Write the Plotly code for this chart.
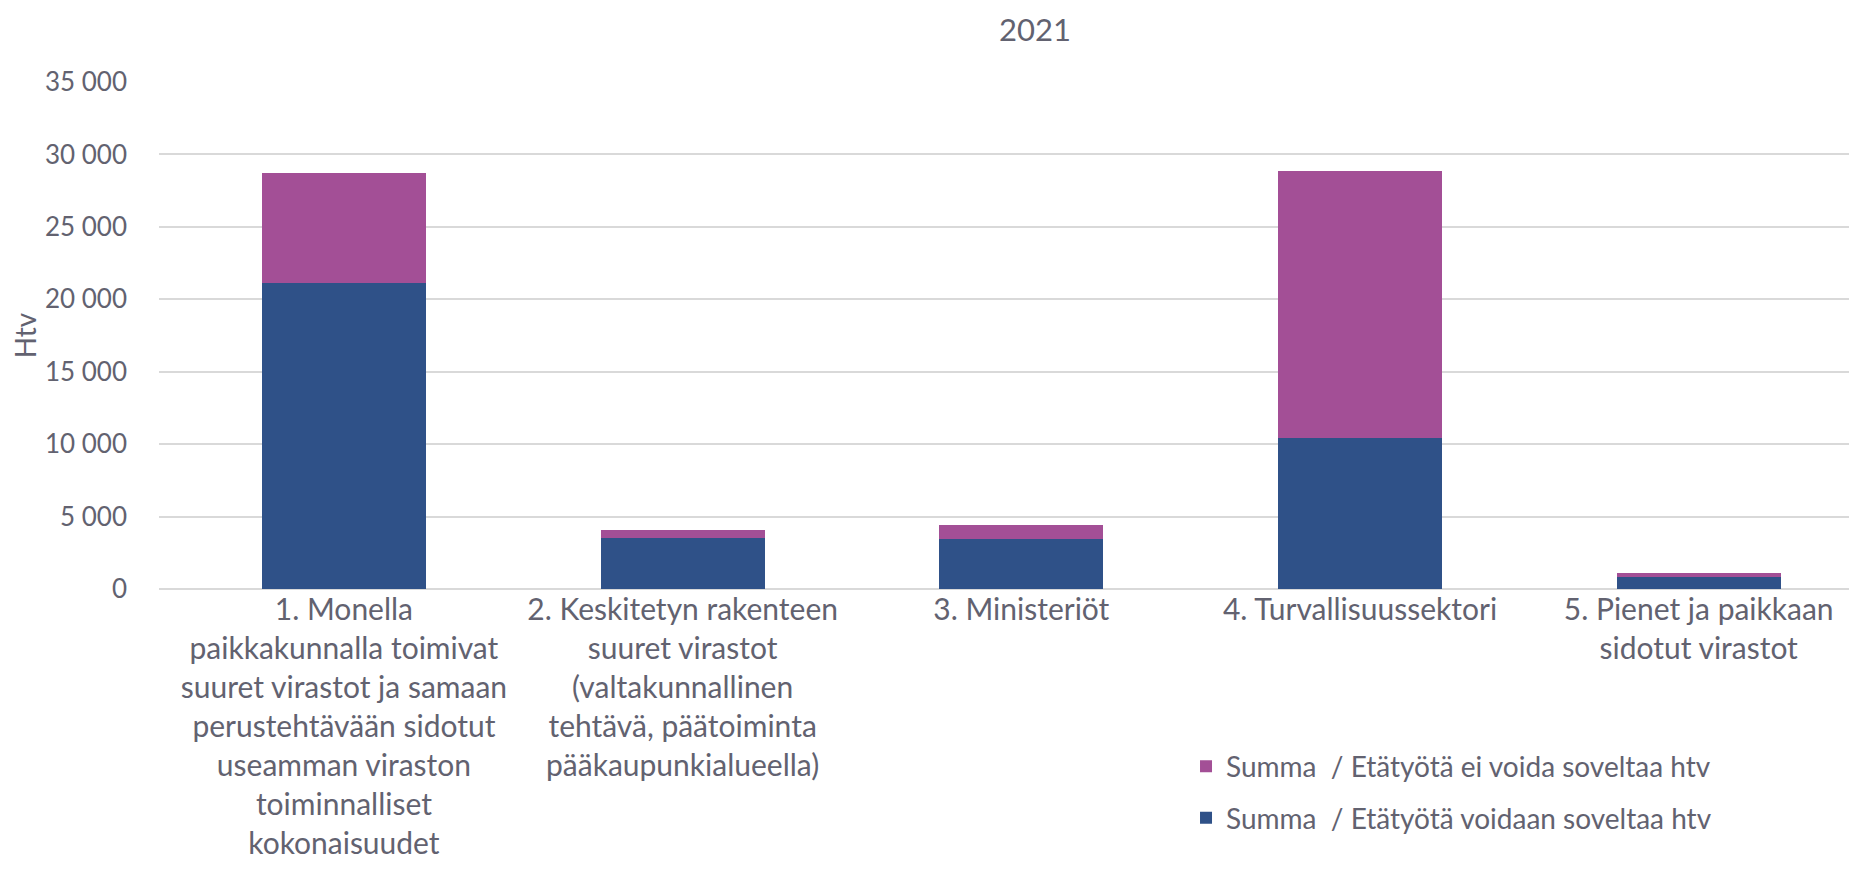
import plotly.graph_objects as go

categories = [
    "1. Monella<br>paikkakunnalla toimivat<br>suuret virastot ja samaan<br>perustehtävään sidotut<br>useamman viraston<br>toiminnalliset<br>kokonaisuudet",
    "2. Keskitetyn rakenteen<br>suuret virastot<br>(valtakunnallinen<br>tehtävä, päätoiminta<br>pääkaupunkialueella)",
    "3. Ministeriöt",
    "4. Turvallisuussektori",
    "5. Pienet ja paikkaan<br>sidotut virastot",
]
voidaan = [21100, 3520, 3450, 10410, 830]
ei_voida = [7590, 550, 965, 18420, 275]

name_voidaan = "Summa  / Etätyötä voidaan soveltaa htv"
name_ei = "Summa  / Etätyötä ei voida soveltaa htv"

text_color = "#626270"
font_family = "Lato, Carlito, Calibri, sans-serif"

fig = go.Figure()
fig.add_trace(go.Bar(x=list(range(len(categories))), y=voidaan, name=name_voidaan,
                     legendgroup="a", legendrank=2,
                     marker=dict(color="#2f5188", line=dict(width=0))))
fig.add_trace(go.Bar(x=list(range(len(categories))), y=ei_voida, name=name_ei,
                     legendgroup="b", legendrank=1,
                     marker=dict(color="#a34f96", line=dict(width=0))))

fig.update_layout(
    barmode="stack",
    bargap=0.516,
    width=1857, height=881,
    margin=dict(l=151, r=0, t=74, b=300),
    paper_bgcolor="white", plot_bgcolor="white",
    separators=", ",
    font=dict(family=font_family, size=28, color=text_color),
    title=dict(text="2021", x=0.553, xref="container", y=0.987, yref="container",
               xanchor="center", yanchor="top", font=dict(size=31, color=text_color)),
    legend=dict(x=0.602, y=-0.301, xanchor="left", yanchor="top",
                traceorder="grouped", font=dict(size=28, color=text_color),
                itemwidth=30, tracegroupgap=12, bgcolor="rgba(0,0,0,0)"),
    showlegend=True,
)
fig.update_xaxes(
    tickmode="array", tickvals=list(range(len(categories))), ticktext=categories,
    range=[-0.546, 4.491], showgrid=False, zeroline=False, showline=False,
    tickangle=0, tickfont=dict(size=30, color=text_color),
)
fig.update_yaxes(
    range=[0, 35000], tickvals=[0, 5000, 10000, 15000, 20000, 25000, 30000, 35000],
    tickformat=",d", showgrid=True, gridcolor="#d9d9d9", gridwidth=1.5,
    zeroline=True, zerolinecolor="#d9d9d9", zerolinewidth=1.5, showline=False,
    ticklabelstandoff=31, tickfont=dict(size=26, color=text_color),
    title=dict(text="Htv", standoff=0, font=dict(size=28, color=text_color)),
)

fig.write_html("out.html")
